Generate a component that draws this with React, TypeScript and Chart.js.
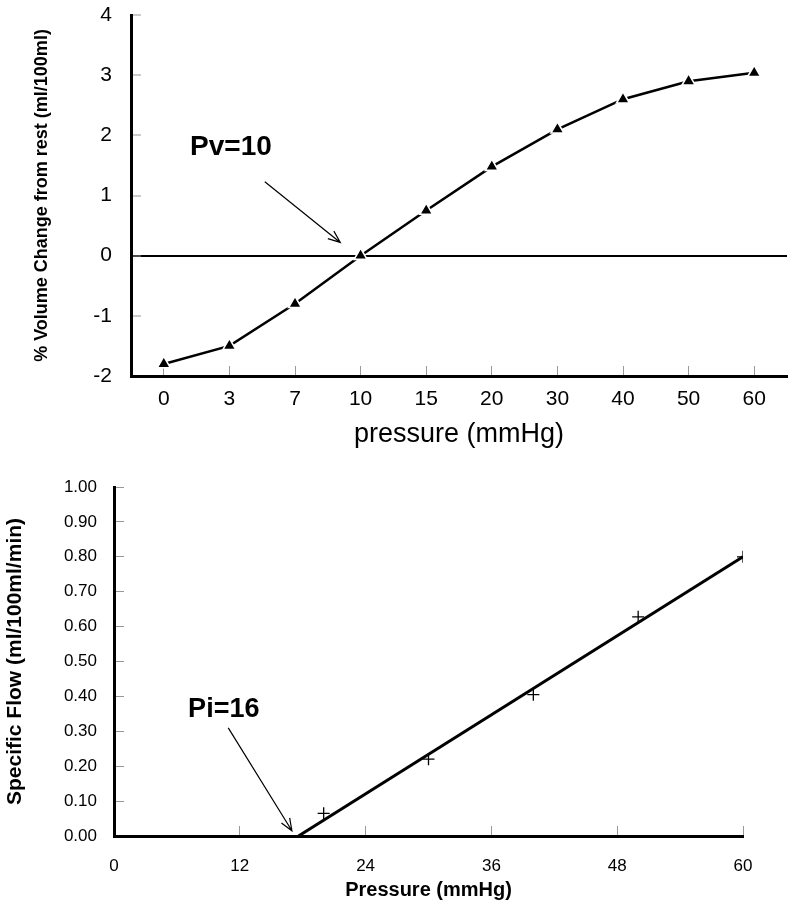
import React, { useEffect, useRef } from 'react';
import { Chart, registerables } from 'chart.js';

Chart.register(...registerables);

const FONT = '"Liberation Sans", Arial, Helvetica, sans-serif';

// ---- Top chart data ----
const pressureLabels = ['0', '3', '7', '10', '15', '20', '30', '40', '50', '60'];
const volumeChange = [-1.8, -1.5, -0.8, 0, 0.75, 1.48, 2.1, 2.6, 2.9, 3.04];
const topYMin = -2;
const topYMax = 4;
const topYStep = 1;
const topXTitle = 'pressure (mmHg)';
const topYTitle = '% Volume Change from rest (ml/100ml)';
const pvText = 'Pv=10';
const pvLabelAt = [0.4, 1.8];
const pvArrowFrom = [1.54, 1.23];
const pvArrowTo = [2.69, 0.22];

// ---- Bottom chart data ----
const flowPressure = [20, 30, 40, 50, 60];
const specificFlow = [0.065, 0.22, 0.405, 0.628, 0.8];
const trendPressure = [17.6, 60];
const trendFlow = [0, 0.8];
const botXMin = 0;
const botXMax = 60;
const botXStep = 12;
const botYMin = 0;
const botYMax = 1;
const botYStep = 0.1;
const botXTitle = 'Pressure (mmHg)';
const botYTitle = 'Specific Flow (ml/100ml/min)';
const piText = 'Pi=16';
const piLabelAt = [7.07, 0.361];
const piArrowFrom = [10.9, 0.31];
const piArrowTo = [16.97, 0.015];

function annotationPlugin(id: string, text: string, fontSize: number, labelAt: number[], from: number[], to: number[]) {
  return {
    id,
    afterDatasetsDraw(chart: any) {
      const { ctx } = chart;
      const xs = chart.scales.x;
      const ys = chart.scales.y;
      const lx = xs.getPixelForValue(labelAt[0]);
      const ly = ys.getPixelForValue(labelAt[1]);
      const x1 = xs.getPixelForValue(from[0]);
      const y1 = ys.getPixelForValue(from[1]);
      const x2 = xs.getPixelForValue(to[0]);
      const y2 = ys.getPixelForValue(to[1]);
      ctx.save();
      ctx.fillStyle = '#000';
      ctx.font = `bold ${fontSize}px ${FONT}`;
      ctx.textAlign = 'left';
      ctx.textBaseline = 'middle';
      ctx.fillText(text, lx, ly);
      ctx.strokeStyle = '#000';
      ctx.lineWidth = 1.2;
      ctx.beginPath();
      ctx.moveTo(x1, y1);
      ctx.lineTo(x2, y2);
      const ang = Math.atan2(y2 - y1, x2 - x1);
      const len = 13;
      const spread = 0.38;
      ctx.moveTo(x2 - len * Math.cos(ang - spread), y2 - len * Math.sin(ang - spread));
      ctx.lineTo(x2, y2);
      ctx.lineTo(x2 - len * Math.cos(ang + spread), y2 - len * Math.sin(ang + spread));
      ctx.stroke();
      ctx.restore();
    },
  };
}

function TopChart() {
  const ref = useRef<HTMLCanvasElement>(null);
  useEffect(() => {
    if (!ref.current) return;
    const chart = new Chart(ref.current, {
      type: 'line',
      data: {
        labels: pressureLabels,
        datasets: [
          {
            data: volumeChange,
            borderColor: '#000',
            borderWidth: 2.5,
            tension: 0,
            pointStyle: 'triangle',
            pointRadius: 7.5,
            pointBackgroundColor: '#000',
            pointBorderColor: '#fff',
            pointBorderWidth: 1.6,
          },
        ],
      },
      options: {
        responsive: false,
        animation: false,
        layout: { padding: { left: 0, top: 15, right: 13, bottom: 0 } },
        plugins: { legend: { display: false }, tooltip: { enabled: false } },
        scales: {
          x: {
            type: 'category',
            offset: true,
            grid: { offset: false, drawOnChartArea: false, drawTicks: true, tickLength: -10, tickColor: '#999', tickWidth: 1 },
            border: { display: true, color: '#000', width: 3 },
            ticks: { color: '#000', font: { family: FONT, size: 21 }, padding: 21, autoSkip: false, maxRotation: 0 },
            title: { display: true, text: topXTitle, color: '#000', font: { family: FONT, size: 27 }, padding: { top: 0, bottom: 9 } },
            afterFit: (s: any) => { s.height = 84; s.paddingLeft = 0; s.paddingRight = 0; },
          },
          y: {
            min: topYMin,
            max: topYMax,
            grid: {
              color: (c: any) => (c.tick && c.tick.value === 0 ? '#000' : 'rgba(0,0,0,0)'),
              lineWidth: 2,
              drawTicks: true,
              tickLength: -10,
              tickColor: '#999',
              tickWidth: 1,
            },
            border: { display: true, color: '#000', width: 3 },
            ticks: { stepSize: topYStep, color: '#000', font: { family: FONT, size: 21 }, padding: 29 },
            title: { display: true, text: topYTitle, color: '#000', font: { family: FONT, size: 18, weight: 'bold' }, padding: { top: 31, bottom: 0 } },
            afterFit: (s: any) => { s.width = 131; s.paddingTop = 0; s.paddingBottom = 0; },
          },
        },
      },
      plugins: [annotationPlugin('pvNote', pvText, 28, pvLabelAt, pvArrowFrom, pvArrowTo)],
    } as any);
    return () => chart.destroy();
  }, []);
  return <canvas ref={ref} width={800} height={460} style={{ position: 'absolute', left: 0, top: 0 }} />;
}

function BottomChart() {
  const ref = useRef<HTMLCanvasElement>(null);
  useEffect(() => {
    if (!ref.current) return;
    const points = flowPressure.map((p, i) => ({ x: p, y: specificFlow[i] }));
    const trend = trendPressure.map((p, i) => ({ x: p, y: trendFlow[i] }));
    const chart = new Chart(ref.current, {
      type: 'scatter',
      data: {
        datasets: [
          {
            data: points,
            showLine: false,
            pointStyle: 'cross',
            pointRadius: 6,
            pointBorderColor: '#000',
            pointBorderWidth: 1.3,
            pointBackgroundColor: '#000',
          },
          {
            data: trend,
            showLine: true,
            borderColor: '#000',
            borderWidth: 3,
            pointRadius: 0,
            tension: 0,
          },
        ],
      },
      options: {
        responsive: false,
        animation: false,
        layout: { padding: { left: 0, top: 27, right: 57, bottom: 0 } },
        plugins: { legend: { display: false }, tooltip: { enabled: false } },
        scales: {
          x: {
            type: 'linear',
            min: botXMin,
            max: botXMax,
            grid: { drawOnChartArea: false, drawTicks: true, tickLength: -10, tickColor: '#999', tickWidth: 1 },
            border: { display: true, color: '#000', width: 3 },
            ticks: { stepSize: botXStep, color: '#000', font: { family: FONT, size: 17 }, padding: 30, maxRotation: 0 },
            title: { display: true, text: botXTitle, color: '#000', font: { family: FONT, size: 20, weight: 'bold' }, padding: { top: 0, bottom: 5 } },
            afterFit: (s: any) => { s.height = 71; s.paddingLeft = 0; s.paddingRight = 0; },
          },
          y: {
            min: botYMin,
            max: botYMax,
            grid: { drawOnChartArea: false, drawTicks: true, tickLength: -10, tickColor: '#999', tickWidth: 1 },
            border: { display: true, color: '#000', width: 3 },
            ticks: {
              stepSize: botYStep,
              color: '#000',
              font: { family: FONT, size: 17 },
              padding: 27,
              callback: (v: any) => Number(v).toFixed(2),
            },
            title: { display: true, text: botYTitle, color: '#000', font: { family: FONT, size: 21, weight: 'bold' }, padding: { top: 3, bottom: 0 } },
            afterFit: (s: any) => { s.width = 114; s.paddingTop = 0; s.paddingBottom = 0; },
          },
        },
      },
      plugins: [annotationPlugin('piNote', piText, 27, piLabelAt, piArrowFrom, piArrowTo)],
    } as any);
    return () => chart.destroy();
  }, []);
  return <canvas ref={ref} width={800} height={447} style={{ position: 'absolute', left: 0, top: 460 }} />;
}

export default function App() {
  return (
    <div style={{ position: 'absolute', left: 0, top: 0, width: 800, height: 907, background: '#fff' }}>
      <TopChart />
      <BottomChart />
    </div>
  );
}
